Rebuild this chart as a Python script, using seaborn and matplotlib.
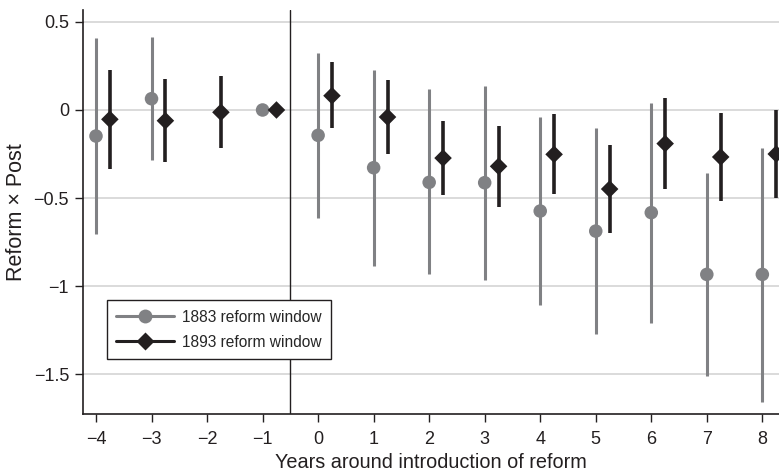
import numpy as np
import pandas as pd
import matplotlib
matplotlib.use("Agg")
import matplotlib.pyplot as plt
from matplotlib.lines import Line2D
import seaborn as sns

# Event-study estimates: years relative to reform, point estimate and 95% CI
years_1883 = [-4, -3, -1, 0, 1, 2, 3, 4, 5, 6, 7, 8]
est_1883 = [-0.148, 0.064, 0.0, -0.144, -0.328, -0.411, -0.413, -0.574, -0.688, -0.583, -0.934, -0.934]
lo_1883 = [-0.707, -0.286, 0.0, -0.612, -0.885, -0.934, -0.964, -1.110, -1.273, -1.210, -1.509, -1.657]
hi_1883 = [0.407, 0.417, 0.0, 0.324, 0.227, 0.117, 0.136, -0.040, -0.104, 0.040, -0.358, -0.214]

years_1893 = [-4, -3, -2, -1, 0, 1, 2, 3, 4, 5, 6, 7, 8]
est_1893 = [-0.053, -0.061, -0.013, 0.0, 0.081, -0.040, -0.273, -0.320, -0.252, -0.449, -0.191, -0.267, -0.250]
lo_1893 = [-0.335, -0.297, -0.218, 0.0, -0.104, -0.248, -0.485, -0.553, -0.477, -0.699, -0.451, -0.519, -0.502]
hi_1893 = [0.227, 0.178, 0.195, 0.0, 0.271, 0.169, -0.061, -0.091, -0.023, -0.199, 0.068, -0.015, 0.002]

x_ticks = list(range(-4, 9))
y_ticks = [0.5, 0, -0.5, -1, -1.5]
y_tick_labels = ["0.5", "0", "\u22120.5", "\u22121", "\u22121.5"]

label_1883 = "1883 reform window"
label_1893 = "1893 reform window"
gray = "#808184"
black = "#231f20"
offset_1893 = 0.25

sns.set_style("ticks")
plt.rcParams["font.family"] = ["Liberation Sans", "DejaVu Sans"]

df83 = pd.DataFrame({"year": years_1883, "est": est_1883, "lo": lo_1883, "hi": hi_1883})
df93 = pd.DataFrame({"year": years_1893, "est": est_1893, "lo": lo_1893, "hi": hi_1893})
df93["xpos"] = df93["year"] + offset_1893

fig = plt.figure(figsize=(7.79, 4.73), dpi=100)
ax = fig.add_axes([83 / 779, 1 - 414 / 473, 1 - 83 / 779, 404 / 473])

ax.set_ylim(-1.727, 0.568)
ax.set_xlim(-4.234, 8.3)

for y in y_ticks:
    ax.axhline(y, color="#d4d4d4", lw=1.2, zorder=0)
ax.axvline(-0.5, color=black, lw=1.0, zorder=1)

# Confidence intervals
ax.vlines(df83["year"], df83["lo"], df83["hi"], color=gray, lw=2.2, zorder=2)
ax.vlines(df93["xpos"], df93["lo"], df93["hi"], color=black, lw=2.6, zorder=3)

# Point estimates
sns.scatterplot(data=df83, x="year", y="est", ax=ax, marker="o", s=95,
                color=gray, edgecolor="none", zorder=4, legend=False)
sns.scatterplot(data=df93, x="xpos", y="est", ax=ax, marker="D", s=80,
                color=black, edgecolor="none", zorder=5, legend=False)

ax.set_xticks(x_ticks)
ax.set_xticklabels([str(t).replace("-", "\u2212") for t in x_ticks])
ax.set_yticks(y_ticks)
ax.set_yticklabels(y_tick_labels)
ax.tick_params(axis="both", labelsize=13, length=6, width=1, color="#231f20",
               labelcolor="#231f20")
ax.tick_params(axis="x", pad=6)
ax.tick_params(axis="y", pad=4)

ax.set_xlabel("Years around introduction of reform", fontsize=14.3, color="#231f20", labelpad=4)
ax.set_ylabel("Reform \u00d7 Post", fontsize=15.5, color="#231f20", labelpad=5)

for side in ("top", "right"):
    ax.spines[side].set_visible(False)
for side in ("left", "bottom"):
    ax.spines[side].set_color("#231f20")
    ax.spines[side].set_linewidth(1.2)

handles = [
    Line2D([0], [0], color=gray, lw=2.2, marker="o", markersize=10, markeredgecolor="none"),
    Line2D([0], [0], color=black, lw=2.2, marker="D", markersize=9, markeredgecolor="none"),
]
leg = ax.legend(handles, [label_1883, label_1893], loc="upper left",
                bbox_to_anchor=(0.0345, 0.281), borderaxespad=0, fontsize=11.2,
                handlelength=3.7, frameon=True, fancybox=False, framealpha=1,
                borderpad=0.6, labelspacing=0.65, handletextpad=0.5)
leg.get_frame().set_edgecolor("#231f20")
leg.get_frame().set_linewidth(1.0)

fig.savefig("out.png", dpi=100)
